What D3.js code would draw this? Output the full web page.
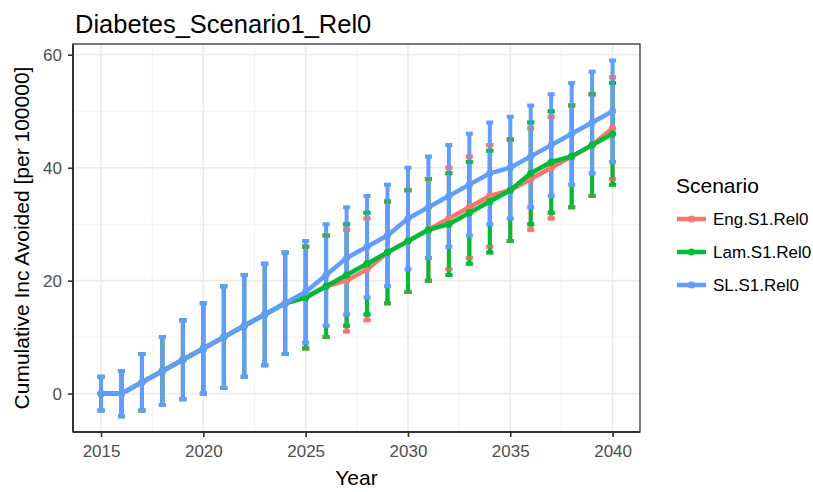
<!DOCTYPE html>
<html lang="en">
<head>
    <meta charset="UTF-8">
    <title>Diabetes_Scenario1_Rel0</title>
    <script src="https://d3js.org/d3.v7.min.js"></script>
    <style>
        body {
            margin: 0;
            background: white;
            font-family: "Liberation Sans", Arial, sans-serif;
        }
    </style>
</head>
<body>
    <div id="chart"></div>

    <script>
        // Data
        const years = [2015, 2016, 2017, 2018, 2019, 2020, 2021, 2022, 2023, 2024, 2025, 2026, 2027,
                       2028, 2029, 2030, 2031, 2032, 2033, 2034, 2035, 2036, 2037, 2038, 2039, 2040];

        const engMean = [0, 0, 2, 4, 6, 8, 10, 12, 14, 16, 17, 19, 20, 22, 25, 27, 29, 31, 33, 35, 36, 38, 40, 42, 44, 47];
        const engLow  = [-3, -4, -3, -2, -1, 0, 1, 3, 5, 7, 8, 10, 11, 13, 16, 18, 20, 22, 24, 26, 27, 29, 31, 33, 35, 38];
        const engHigh = [3, 4, 7, 10, 13, 16, 19, 21, 23, 25, 26, 28, 29, 31, 34, 36, 38, 40, 42, 44, 45, 47, 49, 51, 53, 56];

        const lamMean = [0, 0, 2, 4, 6, 8, 10, 12, 14, 16, 17, 19, 21, 23, 25, 27, 29, 30, 32, 34, 36, 39, 41, 42, 44, 46];
        const lamLow  = [-3, -4, -3, -2, -1, 0, 1, 3, 5, 7, 8, 10, 12, 14, 16, 18, 20, 21, 23, 25, 27, 30, 32, 33, 35, 37];
        const lamHigh = [3, 4, 7, 10, 13, 16, 19, 21, 23, 25, 26, 28, 30, 32, 34, 36, 38, 39, 41, 43, 45, 48, 50, 51, 53, 55];

        const slMean = [0, 0, 2, 4, 6, 8, 10, 12, 14, 16, 18, 21, 24, 26, 28, 31, 33, 35, 37, 39, 40, 42, 44, 46, 48, 50];
        const slLow  = [-3, -4, -3, -2, -1, 0, 1, 3, 5, 7, 9, 12, 14, 17, 19, 22, 24, 26, 28, 30, 31, 33, 35, 37, 39, 41];
        const slHigh = [3, 4, 7, 10, 13, 16, 19, 21, 23, 25, 27, 30, 33, 35, 37, 40, 42, 44, 46, 48, 49, 51, 53, 55, 57, 59];

        const scenarios = ["Eng.S1.Rel0", "Lam.S1.Rel0", "SL.S1.Rel0"];
        const colors = ["#F8766D", "#00BA38", "#619CFF"];

        const xTicks = [2015, 2020, 2025, 2030, 2035, 2040];
        const xMinor = [2017.5, 2022.5, 2027.5, 2032.5, 2037.5];
        const yTicks = [0, 20, 40, 60];
        const yMinor = [10, 30, 50];

        const series = [
            { name: scenarios[0], color: colors[0], mean: engMean, low: engLow, high: engHigh },
            { name: scenarios[1], color: colors[1], mean: lamMean, low: lamLow, high: lamHigh },
            { name: scenarios[2], color: colors[2], mean: slMean, low: slLow, high: slHigh }
        ];

        const W = 813, H = 492;
        const panel = { left: 73, right: 640, top: 44, bottom: 432 };

        const svg = d3.select("#chart")
            .append("svg")
            .attr("width", W)
            .attr("height", H)
            .style("font-family", '"Liberation Sans", Arial, sans-serif');

        const x = d3.scaleLinear().domain([2013.63, 2041.34]).range([panel.left, panel.right]);
        const y = d3.scaleLinear().domain([-6.8, 61.9]).range([panel.bottom, panel.top]);

        // Grid
        const grid = svg.append("g");
        grid.selectAll(".xminor").data(xMinor).enter().append("line")
            .attr("x1", d => x(d)).attr("x2", d => x(d))
            .attr("y1", panel.top).attr("y2", panel.bottom)
            .attr("stroke", "#F2F2F2").attr("stroke-width", 1);
        grid.selectAll(".yminor").data(yMinor).enter().append("line")
            .attr("y1", d => y(d)).attr("y2", d => y(d))
            .attr("x1", panel.left).attr("x2", panel.right)
            .attr("stroke", "#F2F2F2").attr("stroke-width", 1);
        grid.selectAll(".xmajor").data(xTicks).enter().append("line")
            .attr("x1", d => x(d)).attr("x2", d => x(d))
            .attr("y1", panel.top).attr("y2", panel.bottom)
            .attr("stroke", "#EBEBEB").attr("stroke-width", 1.6);
        grid.selectAll(".ymajor").data(yTicks).enter().append("line")
            .attr("y1", d => y(d)).attr("y2", d => y(d))
            .attr("x1", panel.left).attr("x2", panel.right)
            .attr("stroke", "#EBEBEB").attr("stroke-width", 1.6);

        // Error bars
        const capHalf = 3.5;
        function errorPath(s, i) {
            const cx = x(years[i]);
            const y0 = y(s.low[i]), y1 = y(s.high[i]);
            return `M${cx - capHalf},${y1}H${cx + capHalf}M${cx},${y1}V${y0}M${cx - capHalf},${y0}H${cx + capHalf}`;
        }

        series.forEach(s => {
            svg.append("g").selectAll("path")
                .data(years.map((d, i) => i))
                .enter().append("path")
                .attr("d", i => errorPath(s, i))
                .attr("fill", "none")
                .attr("stroke", s.color)
                .attr("stroke-width", 4);
        });

        // caps show through the overlapping bars
        series.slice(0, 2).forEach(s => {
            svg.append("g").selectAll("path")
                .data(years.map((d, i) => i).filter(i => years[i] >= 2025))
                .enter().append("path")
                .attr("d", i => {
                    const cx = x(years[i]);
                    return `M${cx - capHalf},${y(s.high[i])}H${cx + capHalf}M${cx - capHalf},${y(s.low[i])}H${cx + capHalf}`;
                })
                .attr("stroke", s.color)
                .attr("stroke-width", 4)
                .attr("opacity", 0.55);
        });

        // Lines and points
        const line = d3.line().x((d, i) => x(years[i])).y(d => y(d));
        series.forEach(s => {
            svg.append("path")
                .datum(s.mean)
                .attr("d", line)
                .attr("fill", "none")
                .attr("stroke", s.color)
                .attr("stroke-width", 4.5)
                .attr("stroke-linejoin", "round");
            svg.append("g").selectAll("circle")
                .data(s.mean)
                .enter().append("circle")
                .attr("cx", (d, i) => x(years[i]))
                .attr("cy", d => y(d))
                .attr("r", 3.6)
                .attr("fill", s.color);
        });

        // Panel border
        svg.append("rect")
            .attr("x", panel.left).attr("y", panel.top)
            .attr("width", panel.right - panel.left)
            .attr("height", panel.bottom - panel.top)
            .attr("fill", "none")
            .attr("stroke", "#333333")
            .attr("stroke-width", 1.3);
        svg.append("line")
            .attr("x1", panel.left).attr("x2", panel.right)
            .attr("y1", panel.bottom).attr("y2", panel.bottom)
            .attr("stroke", "#333333").attr("stroke-width", 2);
        svg.append("line")
            .attr("x1", panel.left).attr("x2", panel.left)
            .attr("y1", panel.top).attr("y2", panel.bottom)
            .attr("stroke", "#333333").attr("stroke-width", 2);

        // Axes
        const xAxis = svg.append("g")
            .attr("transform", `translate(0, ${panel.bottom})`)
            .call(d3.axisBottom(x).tickValues(xTicks).tickFormat(d3.format("d")).tickSize(5).tickPadding(8));
        const yAxis = svg.append("g")
            .attr("transform", `translate(${panel.left}, 0)`)
            .call(d3.axisLeft(y).tickValues(yTicks).tickSize(5).tickPadding(6));
        [xAxis, yAxis].forEach(a => {
            a.select(".domain").remove();
            a.selectAll(".tick line").attr("stroke", "#333333").attr("stroke-width", 1.6);
            a.selectAll(".tick text")
                .attr("fill", "#4D4D4D")
                .style("font-size", "17px")
                .style("font-family", '"Liberation Sans", Arial, sans-serif');
        });

        // Titles
        svg.append("text")
            .attr("x", 75).attr("y", 33)
            .style("font-size", "25.5px")
            .attr("fill", "#000")
            .text("Diabetes_Scenario1_Rel0");

        svg.append("text")
            .attr("x", (panel.left + panel.right) / 2).attr("y", 485)
            .attr("text-anchor", "middle")
            .style("font-size", "21px")
            .text("Year");

        svg.append("text")
            .attr("transform", `translate(29, ${(panel.top + panel.bottom) / 2}) rotate(-90)`)
            .attr("text-anchor", "middle")
            .style("font-size", "21px")
            .text("Cumulative Inc Avoided [per 100000]");

        // Legend
        const legend = svg.append("g");
        legend.append("text")
            .attr("x", 676).attr("y", 193)
            .style("font-size", "21px")
            .text("Scenario");
        const keys = legend.selectAll(".key").data(series).enter().append("g")
            .attr("transform", (d, i) => `translate(676, ${219 + i * 33})`);
        keys.append("line")
            .attr("x1", 1).attr("x2", 30)
            .attr("stroke", d => d.color)
            .attr("stroke-width", 4.5);
        keys.append("circle")
            .attr("cx", 15.5).attr("r", 3.6)
            .attr("fill", d => d.color);
        keys.append("text")
            .attr("x", 37).attr("dy", "0.36em")
            .style("font-size", "17px")
            .text(d => d.name);
    </script>
</body>
</html>
